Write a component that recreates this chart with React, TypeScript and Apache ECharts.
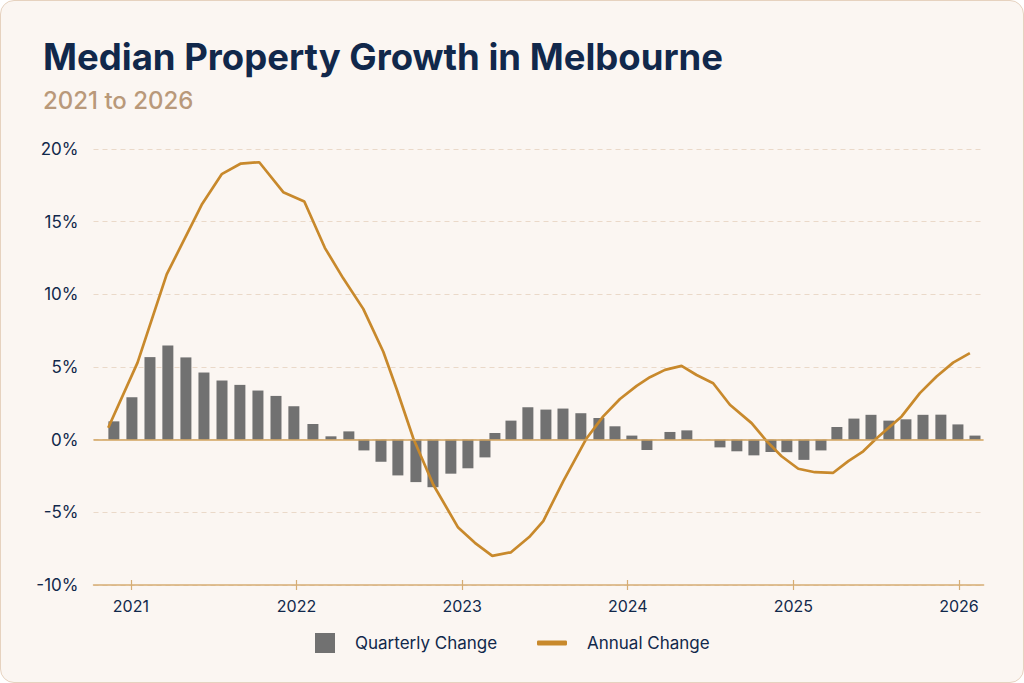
import React, { useEffect, useRef } from "react";
import * as echarts from "echarts";

// Quarterly change bars: dates (decimal years) and values (%)
const barDates = [
  2020.897, 2021.006, 2021.115, 2021.223, 2021.332, 2021.441, 2021.55, 2021.658, 2021.767, 2021.876,
  2021.984, 2022.099, 2022.208, 2022.316, 2022.407, 2022.51, 2022.612, 2022.721, 2022.824, 2022.932,
  2023.035, 2023.138, 2023.198, 2023.295, 2023.397, 2023.506, 2023.609, 2023.717, 2023.826, 2023.923,
  2024.025, 2024.116, 2024.255, 2024.357, 2024.557, 2024.659, 2024.762, 2024.865, 2024.961, 2025.064,
  2025.167, 2025.263, 2025.366, 2025.469, 2025.577, 2025.68, 2025.783, 2025.891, 2025.994, 2026.097,
];
const barValues = [
  1.26, 2.92, 5.68, 6.48, 5.66, 4.62, 4.07, 3.77, 3.38, 3.01,
  2.3, 1.08, 0.23, 0.57, -0.74, -1.52, -2.46, -2.92, -3.27, -2.34,
  -1.97, -1.22, 0.46, 1.31, 2.23, 2.07, 2.14, 1.82, 1.49, 0.92,
  0.28, -0.71, 0.53, 0.64, -0.53, -0.8, -1.08, -0.85, -0.86, -1.39,
  -0.74, 0.87, 1.45, 1.71, 1.31, 1.4, 1.71, 1.72, 1.05, 0.28,
];

// Annual change line
const lineDates = [
  2020.863, 2021.04, 2021.216, 2021.427, 2021.548, 2021.664, 2021.775, 2021.92, 2022.047, 2022.171,
  2022.282, 2022.403, 2022.524, 2022.604, 2022.705, 2022.826, 2022.976, 2023.077, 2023.182, 2023.295,
  2023.405, 2023.49, 2023.611, 2023.752, 2023.852, 2023.953, 2024.054, 2024.134, 2024.225, 2024.325,
  2024.416, 2024.516, 2024.617, 2024.748, 2024.839, 2024.929, 2025.03, 2025.13, 2025.241, 2025.332,
  2025.422, 2025.503, 2025.654, 2025.764, 2025.865, 2025.965, 2026.066,
];
const lineValues = [
  0.82, 5.3, 11.37, 16.16, 18.27, 19.0, 19.09, 17.03, 16.39, 13.2,
  11.1, 9.0, 6.05, 3.5, 0.1, -3.1, -6.05, -7.1, -8.0, -7.75,
  -6.7, -5.6, -2.85, 0.1, 1.6, 2.8, 3.7, 4.3, 4.8, 5.08,
  4.45, 3.88, 2.4, 1.14, -0.1, -1.14, -2.0, -2.24, -2.28, -1.48,
  -0.8, 0.1, 1.6, 3.2, 4.35, 5.3, 5.95,
];

const yearTicks = [2021, 2022, 2023, 2024, 2025, 2026];

const NAVY = "#11284b";
const GOLD = "#c8892c";
const TAN_LINE = "#d6ad74";
const FONT = "Inter";

export default function App() {
  const ref = useRef<HTMLDivElement>(null);

  useEffect(() => {
    document.body.style.margin = "0";
    if (!ref.current) return;
    const chart = echarts.init(ref.current, undefined, { renderer: "svg" });
    const xMin = 2020.774;
    const xMax = 2026.149;
    chart.setOption({
      animation: false,
      backgroundColor: "transparent",
      title: [
        {
          text: "Median Property Growth in Melbourne",
          left: 38,
          top: 33,
          textStyle: { color: NAVY, fontFamily: FONT, fontWeight: 700, fontSize: 36.5 },
        },
        {
          text: "2021 to 2026",
          left: 38,
          top: 83,
          textStyle: { color: "#b9997a", fontFamily: FONT, fontWeight: 500, fontSize: 24 },
        },
      ],
      grid: { left: 93.5, right: 40.4, top: 149, bottom: 98 },
      legend: [
        {
          data: [{ name: "Quarterly Change", icon: "rect" }],
          left: 315,
          top: 633,
          padding: 0,
          itemWidth: 20,
          itemHeight: 20,
          selectedMode: false,
          textStyle: { color: NAVY, fontFamily: FONT, fontSize: 17, padding: [0, 0, 0, 15] },
        },
        {
          data: [{ name: "Annual Change", icon: "roundRect" }],
          left: 537,
          top: 634.5,
          padding: 0,
          itemWidth: 30,
          itemHeight: 5,
          selectedMode: false,
          textStyle: { color: NAVY, fontFamily: FONT, fontSize: 17, padding: [0, 0, 0, 15] },
        },
      ],
      xAxis: [
        {
          type: "value",
          min: xMin,
          max: xMax,
          position: "bottom",
          splitLine: { show: false },
          axisLine: { show: true, onZero: false, lineStyle: { color: TAN_LINE, width: 1.5 } },
          axisTick: { show: true, customValues: yearTicks, length: 5, lineStyle: { color: TAN_LINE, width: 1.2 } },
          axisLabel: {
            customValues: yearTicks,
            formatter: (v: number) => String(Math.round(v)),
            color: NAVY,
            fontFamily: FONT,
            fontSize: 16,
            margin: 13,
          },
        },
        {
          type: "value",
          min: xMin,
          max: xMax,
          position: "bottom",
          splitLine: { show: false },
          axisLine: { show: false, onZero: false },
          axisTick: { show: true, inside: true, customValues: yearTicks, length: 5, lineStyle: { color: TAN_LINE, width: 1.2 } },
          axisLabel: { show: false },
        },
      ],
      yAxis: {
        type: "value",
        min: -10,
        max: 20,
        interval: 5,
        axisLine: { show: false },
        axisTick: { show: false },
        axisLabel: {
          formatter: "{value}%",
          color: NAVY,
          fontFamily: FONT,
          fontSize: 17,
          margin: 15,
        },
        splitLine: { show: true, lineStyle: { color: "#ead9c9", type: [5, 4], width: 1 } },
      },
      series: [
        {
          name: "Quarterly Change",
          type: "bar",
          xAxisIndex: 0,
          barWidth: 11,
          itemStyle: { color: "#717171" },
          data: barDates.map((d, i) => [d, barValues[i]]),
          markLine: {
            silent: true,
            symbol: "none",
            label: { show: false },
            lineStyle: { color: "#d2a35e", width: 1.6, type: "solid" },
            data: [{ yAxis: 0 }],
          },
          z: 2,
        },
        {
          name: "Annual Change",
          type: "line",
          xAxisIndex: 0,
          showSymbol: false,
          symbol: "none",
          color: GOLD,
          lineStyle: { color: GOLD, width: 2.7 },
          itemStyle: { color: GOLD },
          data: lineDates.map((d, i) => [d, lineValues[i]]),
          z: 4,
        },
      ],
    });
    return () => chart.dispose();
  }, []);

  return (
    <div
      style={{
        width: 1024,
        height: 683,
        boxSizing: "border-box",
        background: "#fbf6f2",
        border: "1.5px solid #e6d2bf",
        borderRadius: 14,
        position: "relative",
        overflow: "hidden",
      }}
    >
      <div ref={ref} style={{ position: "absolute", left: -1.5, top: -1.5, width: 1024, height: 683 }} />
    </div>
  );
}
